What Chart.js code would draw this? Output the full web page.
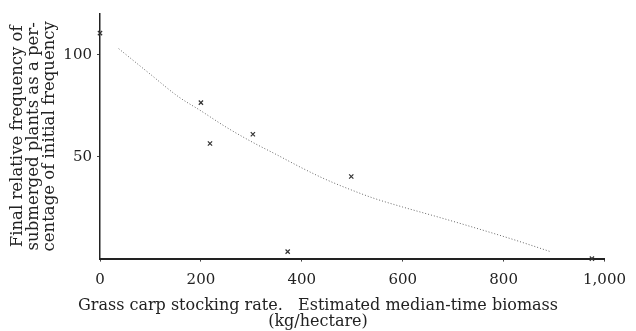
<!DOCTYPE html>
<html>
<head>
<meta charset="utf-8">
<script src="https://cdn.jsdelivr.net/npm/chart.js@4/dist/chart.umd.min.js"></script>
<style>
  html, body { margin: 0; padding: 0; background: #fff; }
  #wrap { width: 636px; height: 331px; position: relative; }
</style>
</head>
<body>
<div id="wrap"><canvas id="c" width="636" height="331"></canvas></div>
<script>
// Observed points (x marks)
const pointX = [0, 200, 218, 303, 372, 498, 975];
const pointY = [110.6, 76.5, 56.5, 61, 3.4, 40.3, 0];
// Fitted curve (dotted line)
const curveX = [37, 100, 155, 200, 250, 303, 350, 400, 446, 500, 544, 600, 673, 750, 820, 893];
const curveY = [103, 90.4, 79.5, 72.5, 64.5, 57, 51, 44.5, 39, 33.5, 29.5, 25.3, 20.2, 14.6, 9.3, 3.4];
// Axis ticks
const xTicks = [0, 200, 400, 600, 800, 1000];
const yTicks = [50, 100];
// Titles
const yTitle = ["Final relative frequency of", "submerged plants as a per-", "centage of initial frequency"];
const xTitle = ["Grass carp stocking rate.   Estimated median-time biomass", "(kg/hectare)"];

const ink = '#222';
const serif = "'DejaVu Serif', 'Liberation Serif', serif";

new Chart(document.getElementById('c'), {
  type: 'scatter',
  data: {
    datasets: [
      {
        label: 'observed',
        data: pointX.map((x, i) => ({x: x, y: pointY[i]})),
        pointStyle: 'crossRot',
        pointRadius: 3,
        pointBorderWidth: 1.2,
        borderColor: '#333',
        backgroundColor: '#333',
        showLine: false,
        clip: false
      },
      {
        label: 'fitted',
        data: curveX.map((x, i) => ({x: x, y: curveY[i]})),
        showLine: true,
        pointRadius: 0,
        borderColor: '#666',
        borderWidth: 1,
        borderDash: [1, 2],
        cubicInterpolationMode: 'monotone',
        fill: false
      }
    ]
  },
  options: {
    responsive: false,
    animation: false,
    devicePixelRatio: 1,
    layout: { padding: { top: 11, right: 0, left: 0, bottom: 0 } },
    plugins: {
      legend: { display: false },
      tooltip: { enabled: false },
      title: {
        display: true,
        position: 'bottom',
        align: 'center',
        text: xTitle,
        color: ink,
        font: { family: serif, size: 16, weight: 'normal', lineHeight: 0.95 },
        padding: { top: 8, bottom: 2 }
      }
    },
    scales: {
      x: {
        type: 'linear',
        min: 0,
        max: 1000,
        afterBuildTicks: (s) => { s.ticks = xTicks.map(v => ({value: v})); },
        afterFit: (s) => { s.height = 32; },
        ticks: {
          color: ink,
          padding: 10,
          font: { family: serif, size: 15 },
          callback: (v) => v.toLocaleString('en-US')
        },
        grid: { drawOnChartArea: false, tickLength: 3, color: '#444' },
        border: { color: ink, width: 2 }
      },
      y: {
        type: 'linear',
        min: 0,
        max: 120,
        afterBuildTicks: (s) => { s.ticks = yTicks.map(v => ({value: v})); },
        afterFit: (s) => { s.width = 100; },
        ticks: {
          color: ink,
          padding: 5,
          font: { family: serif, size: 15 }
        },
        grid: { drawOnChartArea: false, tickLength: 3, color: '#444' },
        border: { color: ink, width: 1.5 },
        title: {
          display: true,
          text: yTitle,
          color: ink,
          font: { family: serif, size: 16.5, lineHeight: 0.97 },
          padding: { top: 10, bottom: 0 }
        }
      }
    }
  }
});
</script>
</body>
</html>
